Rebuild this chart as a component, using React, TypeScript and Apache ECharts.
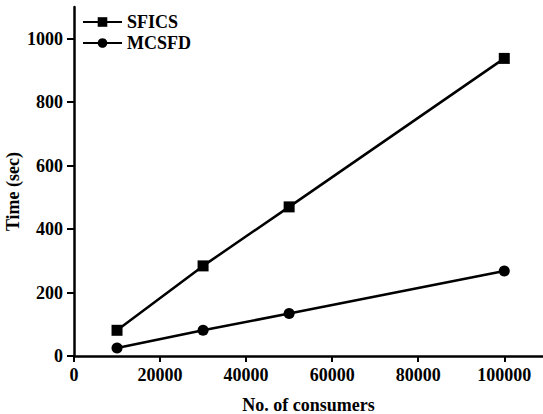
import React, { useEffect, useRef } from "react";
import * as echarts from "echarts";

const consumers = [10000, 30000, 50000, 100000];
const sficsTimes = [81, 284, 470, 938];
const mcsfdTimes = [25, 81, 134, 268];
const xTicks = [0, 20000, 40000, 60000, 80000, 100000];
const yTicks = [0, 200, 400, 600, 800, 1000];

const FONT = "'Liberation Serif', 'Times New Roman', serif";

export default function App() {
  const ref = useRef<HTMLDivElement>(null);
  useEffect(() => {
    if (!ref.current) return;
    const chart = echarts.init(ref.current, undefined, { renderer: "svg" });
    const textStyle = { fontFamily: FONT, fontWeight: "bold" as const, fontSize: 18, color: "#000" };
    chart.setOption({
      animation: false,
      backgroundColor: "#fff",
      grid: { left: 74, right: 0, top: 7, bottom: 58, containLabel: false, outerBoundsMode: "none" },
      legend: {
        orient: "vertical",
        left: 82,
        top: 13,
        padding: 0,
        itemWidth: 39,
        itemHeight: 12,
        itemGap: 3,
        textStyle: { ...textStyle, fontSize: 18 },
        data: ["SFICS", "MCSFD"],
      },
      xAxis: {
        type: "value",
        min: 0,
        max: 109000,
        interval: 20000,
        name: "No. of consumers",
        nameLocation: "middle",
        nameGap: 40,
        nameMoveOverlap: false,
        nameTextStyle: textStyle,
        splitLine: { show: false },
        axisLine: { lineStyle: { color: "#000", width: 2.5 } },
        axisTick: { show: true, length: 6, lineStyle: { color: "#000", width: 2 }, customValues: xTicks },
        axisLabel: { ...textStyle, margin: 10, customValues: xTicks, formatter: (v: number) => String(v) },
      },
      yAxis: {
        type: "value",
        min: 0,
        max: 1100,
        interval: 200,
        name: "Time (sec)",
        nameLocation: "middle",
        nameGap: 52,
        nameMoveOverlap: false,
        nameTextStyle: { ...textStyle, padding: [0, 20, 0, 0] },
        splitLine: { show: false },
        axisLine: { show: true, lineStyle: { color: "#000", width: 2.5 } },
        axisTick: { show: true, length: 7, lineStyle: { color: "#000", width: 2 }, customValues: yTicks },
        axisLabel: { ...textStyle, margin: 11, customValues: yTicks, formatter: (v: number) => String(v) },
      },
      series: [
        {
          name: "SFICS",
          type: "line",
          data: consumers.map((c, i) => [c, sficsTimes[i]]),
          symbol: "rect",
          symbolSize: 11,
          lineStyle: { color: "#000", width: 2.5 },
          itemStyle: { color: "#000" },
        },
        {
          name: "MCSFD",
          type: "line",
          data: consumers.map((c, i) => [c, mcsfdTimes[i]]),
          symbol: "circle",
          symbolSize: 11,
          lineStyle: { color: "#000", width: 2.5 },
          itemStyle: { color: "#000" },
        },
      ],
    });
    return () => chart.dispose();
  }, []);
  return (
    <div
      ref={ref}
      style={{ position: "fixed", left: 0, top: 0, width: 543, height: 414, background: "#fff" }}
    />
  );
}
